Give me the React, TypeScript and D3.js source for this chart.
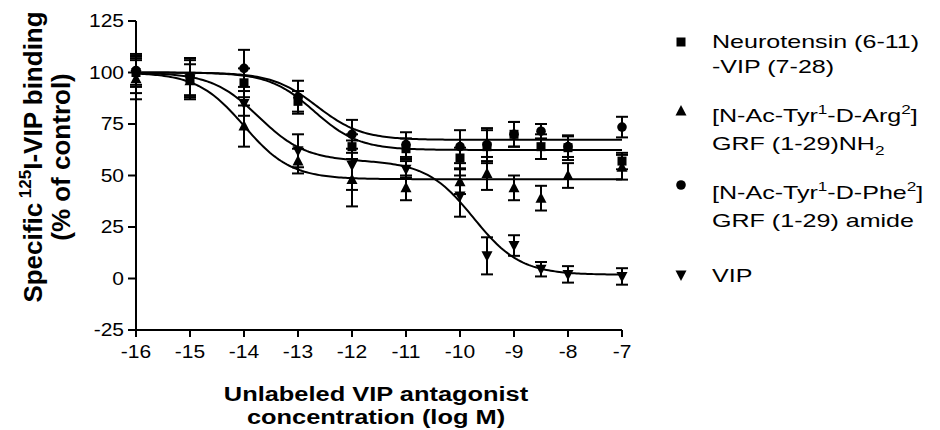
import React from "react";
import * as d3 from "d3";

// ---- data ----
const concentrations = [-16, -15, -14, -13, -12, -11, -10, -9.5, -9, -8.5, -8, -7];
const neurotensinMean = [100, 97, 95, 86, 64, 63, 58.5, 64, 70, 64, 63.5, 57];
const neurotensinSem = [6, 9, 7, 5, 6, 5, 5, 8, 6, 6, 6, 4];
const argMean = [97, 96, 74, 57, 48, 44, 47, 51, 44, 39, 50, 54];
const argSem = [10, 8, 10, 6, 13, 6, 6, 8, 6, 6, 6, 6];
const pheMean = [101, 98, 102, 88, 70, 65, 64, 65, 70, 71.5, 64, 73.5];
const pheSem = [8, 9, 9, 8, 7, 6, 8, 8, 6, 3.5, 5, 5];
const vipMean = [99, 97, 85, 62, 55, 53, 40, 11, 16, 4.5, 2, 1];
const vipSem = [9, 10, 6, 8, 12, 4, 10, 9, 5, 3.5, 4, 4];

// fitted curve parameters [top, bottom, logIC50, hill]
const neurotensinFit = [100, 62.4, -12.7, 1.05];
const argFit = [100, 48.2, -14.0, 1.0];
const pheFit = [100, 67.3, -12.65, 1.05];
// two-site fit [top, bottom, fractionHigh, logIC50high, logIC50low]
const vipFit = [100, 1.8, 0.437, -13.73, -9.75];

const xTicks = [-16, -15, -14, -13, -12, -11, -10, -9, -8, -7];
const yTicks = [125, 100, 75, 50, 25, 0, -25];

const FONT = "'Liberation Sans', Arial, Helvetica, sans-serif";

const x = d3.scaleLinear().domain([-16, -7]).range([136, 622]);
const y = d3.scaleLinear().domain([-25, 125]).range([330, 21]);

const sampleX = d3.range(-16, -7.0001, 0.04).concat([-7]);

function oneSite(p: number[], v: number) {
  const [top, bottom, ic, h] = p;
  return bottom + (top - bottom) / (1 + Math.pow(10, (v - ic) * h));
}
function twoSite(p: number[], v: number) {
  const [top, bottom, f, ic1, ic2] = p;
  return bottom + (top - bottom) * (f / (1 + Math.pow(10, v - ic1)) + (1 - f) / (1 + Math.pow(10, v - ic2)));
}

const line = d3
  .line<[number, number]>()
  .x((d) => x(d[0]))
  .y((d) => y(d[1]))
  .curve(d3.curveLinear);

type Shape = "square" | "up" | "circle" | "down";

function Marker({ shape, cx, cy }: { shape: Shape; cx: number; cy: number }) {
  if (shape === "square") return <rect x={cx - 4.5} y={cy - 4.5} width={9} height={9} fill="#000" />;
  if (shape === "circle") return <circle cx={cx} cy={cy} r={4.8} fill="#000" />;
  if (shape === "up")
    return <path d={`M${cx},${cy - 6} L${cx + 5.5},${cy + 4.5} L${cx - 5.5},${cy + 4.5}Z`} fill="#000" />;
  return <path d={`M${cx},${cy + 6} L${cx + 5.5},${cy - 4.5} L${cx - 5.5},${cy - 4.5}Z`} fill="#000" />;
}

function Series({ mean, sem, shape }: { mean: number[]; sem: number[]; shape: Shape }) {
  return (
    <g>
      {concentrations.map((c, i) => {
        const cx = x(c);
        const y1 = y(mean[i] + sem[i]);
        const y2 = y(mean[i] - sem[i]);
        return (
          <g key={i} stroke="#000" strokeWidth={2}>
            <line x1={cx} x2={cx} y1={y1} y2={y2} />
            <line x1={cx - 6} x2={cx + 6} y1={y1} y2={y1} />
            <line x1={cx - 6} x2={cx + 6} y1={y2} y2={y2} />
          </g>
        );
      })}
      {concentrations.map((c, i) => (
        <Marker key={"m" + i} shape={shape} cx={x(c)} cy={y(mean[i])} />
      ))}
    </g>
  );
}

// horizontally stretched text anchored at (tx, ty)
function SText({
  tx,
  ty,
  sx,
  anchor,
  children,
  size,
  weight,
}: {
  tx: number;
  ty: number;
  sx: number;
  anchor?: string;
  children: React.ReactNode;
  size: number;
  weight?: string;
}) {
  return (
    <text
      transform={`translate(${tx},${ty}) scale(${sx},1)`}
      x={0}
      y={0}
      textAnchor={anchor || "start"}
      fontSize={size}
      fontWeight={weight || "normal"}
      fill="#000"
    >
      {children}
    </text>
  );
}

export default function App() {
  const curves = [
    sampleX.map((v) => [v, oneSite(neurotensinFit, v)] as [number, number]),
    sampleX.map((v) => [v, oneSite(argFit, v)] as [number, number]),
    sampleX.map((v) => [v, oneSite(pheFit, v)] as [number, number]),
    sampleX.map((v) => [v, twoSite(vipFit, v)] as [number, number]),
  ];
  const legendX = 681;
  const textX = 712;
  const tickFs = 17.5;
  const tickSx = 1.2;
  const legFs = 19;
  const legSx = 1.32;
  const supFs = 13;
  return (
    <svg
      width={940}
      height={430}
      style={{ position: "absolute", left: 0, top: 0, background: "#fff" }}
      fontFamily={FONT}
    >
      <rect width={940} height={430} fill="#fff" />
      {/* axes */}
      <g stroke="#000" strokeWidth={2}>
        <line x1={x(-16)} x2={x(-16)} y1={y(125)} y2={y(-25)} />
        <line x1={x(-16)} x2={x(-7)} y1={y(-25)} y2={y(-25)} />
        {yTicks.map((t) => (
          <line key={t} x1={x(-16) - 8} x2={x(-16)} y1={y(t)} y2={y(t)} />
        ))}
        {xTicks.map((t) => (
          <line key={t} x1={x(t)} x2={x(t)} y1={y(-25)} y2={y(-25) + 7} />
        ))}
      </g>
      {yTicks.map((t) => (
        <SText key={t} tx={x(-16) - 12} ty={y(t) + 6.3} sx={tickSx} anchor="end" size={tickFs}>
          {t}
        </SText>
      ))}
      {xTicks.map((t) => (
        <SText key={t} tx={x(t)} ty={358} sx={tickSx} anchor="middle" size={tickFs}>
          {t}
        </SText>
      ))}
      {/* axis titles */}
      <SText tx={376} ty={401} sx={1.27} anchor="middle" size={20} weight="bold">
        Unlabeled VIP antagonist
      </SText>
      <SText tx={376} ty={424} sx={1.27} anchor="middle" size={20} weight="bold">
        concentration (log M)
      </SText>
      <g fontSize={26} fontWeight="bold" fill="#000">
        <text transform="translate(42,157) rotate(-90)" textAnchor="middle">
          Specific
          <tspan dy={-11} fontSize={17}>
            {" "}125
          </tspan>
          <tspan dy={11}>I-VIP binding</tspan>
        </text>
        <text transform="translate(70,157) rotate(-90)" textAnchor="middle">
          (% of control)
        </text>
      </g>
      {/* curves */}
      <g fill="none" stroke="#000" strokeWidth={2}>
        {curves.map((c, i) => (
          <path key={i} d={line(c) || ""} />
        ))}
      </g>
      <Series mean={vipMean} sem={vipSem} shape="down" />
      <Series mean={argMean} sem={argSem} shape="up" />
      <Series mean={pheMean} sem={pheSem} shape="circle" />
      <Series mean={neurotensinMean} sem={neurotensinSem} shape="square" />
      {/* legend */}
      <g>
        <Marker shape="square" cx={legendX} cy={42} />
        <Marker shape="up" cx={legendX} cy={111} />
        <Marker shape="circle" cx={legendX} cy={185} />
        <Marker shape="down" cx={legendX} cy={275} />
      </g>
      <SText tx={textX} ty={48} sx={legSx} size={legFs}>
        Neurotensin (6-11)
      </SText>
      <SText tx={textX} ty={73} sx={legSx} size={legFs}>
        -VIP (7-28)
      </SText>
      <SText tx={textX} ty={122} sx={legSx} size={legFs}>
        [N-Ac-Tyr<tspan dy={-8} fontSize={supFs}>1</tspan>
        <tspan dy={8}>-D-Arg</tspan>
        <tspan dy={-8} fontSize={supFs}>2</tspan>
        <tspan dy={8}>]</tspan>
      </SText>
      <SText tx={textX} ty={150} sx={legSx} size={legFs}>
        GRF (1-29)NH<tspan dy={5} fontSize={supFs}>2</tspan>
      </SText>
      <SText tx={textX} ty={199} sx={legSx} size={legFs}>
        [N-Ac-Tyr<tspan dy={-8} fontSize={supFs}>1</tspan>
        <tspan dy={8}>-D-Phe</tspan>
        <tspan dy={-8} fontSize={supFs}>2</tspan>
        <tspan dy={8}>]</tspan>
      </SText>
      <SText tx={textX} ty={227} sx={legSx} size={legFs}>
        GRF (1-29) amide
      </SText>
      <SText tx={textX} ty={282} sx={legSx} size={legFs}>
        VIP
      </SText>
    </svg>
  );
}
